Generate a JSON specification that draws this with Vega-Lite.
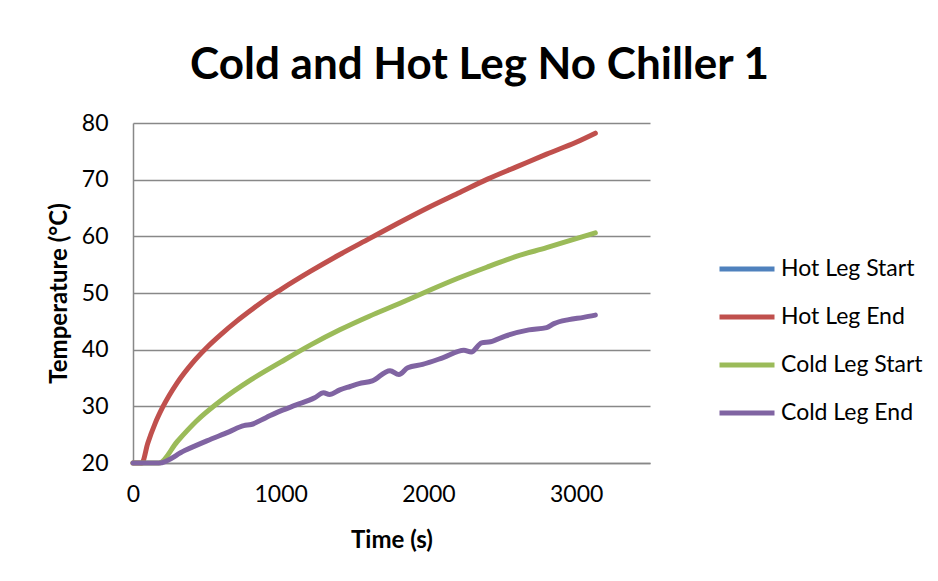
{
  "$schema": "https://vega.github.io/schema/vega-lite/v6.json",
  "autosize": "none",
  "width": 517,
  "height": 340,
  "padding": {"left": 133, "top": 123, "right": 288, "bottom": 118},
  "background": "white",
  "title": {
    "text": "Cold and Hot Leg No Chiller 1",
    "anchor": "middle",
    "frame": "group",
    "dx": 88,
    "offset": 24,
    "font": "Lato",
    "fontSize": 44,
    "fontWeight": "bold",
    "color": "#000000"
  },
  "config": {
    "view": {"stroke": null},
    "font": "Lato",
    "axis": {
      "gridColor": "#888888",
      "gridWidth": 1.5,
      "domainColor": "#888888",
      "domainWidth": 1.5,
      "ticks": false,
      "labelFont": "Lato",
      "labelFontSize": 23,
      "labelColor": "#000000",
      "titleFont": "Lato",
      "titleFontSize": 24,
      "titleFontWeight": "bold",
      "titleColor": "#000000"
    }
  },
  "data": {
    "values": [
      {"series": "Hot Leg End", "t": 0, "v": 20},
      {"series": "Hot Leg End", "t": 60, "v": 20},
      {"series": "Hot Leg End", "t": 100, "v": 23.5},
      {"series": "Hot Leg End", "t": 150, "v": 27},
      {"series": "Hot Leg End", "t": 200, "v": 29.8},
      {"series": "Hot Leg End", "t": 300, "v": 34.2},
      {"series": "Hot Leg End", "t": 400, "v": 37.6},
      {"series": "Hot Leg End", "t": 500, "v": 40.4},
      {"series": "Hot Leg End", "t": 600, "v": 42.8},
      {"series": "Hot Leg End", "t": 700, "v": 45},
      {"series": "Hot Leg End", "t": 800, "v": 47},
      {"series": "Hot Leg End", "t": 900, "v": 48.9},
      {"series": "Hot Leg End", "t": 1000, "v": 50.6},
      {"series": "Hot Leg End", "t": 1200, "v": 53.8},
      {"series": "Hot Leg End", "t": 1400, "v": 56.8},
      {"series": "Hot Leg End", "t": 1600, "v": 59.6},
      {"series": "Hot Leg End", "t": 1800, "v": 62.4},
      {"series": "Hot Leg End", "t": 2000, "v": 65.1},
      {"series": "Hot Leg End", "t": 2200, "v": 67.6},
      {"series": "Hot Leg End", "t": 2400, "v": 70.1},
      {"series": "Hot Leg End", "t": 2600, "v": 72.3},
      {"series": "Hot Leg End", "t": 2800, "v": 74.5},
      {"series": "Hot Leg End", "t": 3000, "v": 76.6},
      {"series": "Hot Leg End", "t": 3130, "v": 78.2},
      {"series": "Cold Leg Start", "t": 0, "v": 20},
      {"series": "Cold Leg Start", "t": 175, "v": 20},
      {"series": "Cold Leg Start", "t": 300, "v": 23.8},
      {"series": "Cold Leg Start", "t": 430, "v": 27.4},
      {"series": "Cold Leg Start", "t": 600, "v": 31.1},
      {"series": "Cold Leg Start", "t": 800, "v": 34.7},
      {"series": "Cold Leg Start", "t": 1000, "v": 37.8},
      {"series": "Cold Leg Start", "t": 1200, "v": 40.8},
      {"series": "Cold Leg Start", "t": 1400, "v": 43.5},
      {"series": "Cold Leg Start", "t": 1600, "v": 45.9},
      {"series": "Cold Leg Start", "t": 1800, "v": 48.1},
      {"series": "Cold Leg Start", "t": 2000, "v": 50.4},
      {"series": "Cold Leg Start", "t": 2200, "v": 52.6},
      {"series": "Cold Leg Start", "t": 2400, "v": 54.6},
      {"series": "Cold Leg Start", "t": 2600, "v": 56.5},
      {"series": "Cold Leg Start", "t": 2800, "v": 58},
      {"series": "Cold Leg Start", "t": 3000, "v": 59.6},
      {"series": "Cold Leg Start", "t": 3130, "v": 60.6},
      {"series": "Cold Leg End", "t": 0, "v": 20},
      {"series": "Cold Leg End", "t": 175, "v": 20},
      {"series": "Cold Leg End", "t": 350, "v": 22.2},
      {"series": "Cold Leg End", "t": 500, "v": 23.9},
      {"series": "Cold Leg End", "t": 650, "v": 25.5},
      {"series": "Cold Leg End", "t": 750, "v": 26.6},
      {"series": "Cold Leg End", "t": 800, "v": 26.8},
      {"series": "Cold Leg End", "t": 900, "v": 28},
      {"series": "Cold Leg End", "t": 1000, "v": 29.2},
      {"series": "Cold Leg End", "t": 1100, "v": 30.2},
      {"series": "Cold Leg End", "t": 1230, "v": 31.5},
      {"series": "Cold Leg End", "t": 1290, "v": 32.4},
      {"series": "Cold Leg End", "t": 1330, "v": 32.1},
      {"series": "Cold Leg End", "t": 1400, "v": 32.9},
      {"series": "Cold Leg End", "t": 1470, "v": 33.5},
      {"series": "Cold Leg End", "t": 1530, "v": 34},
      {"series": "Cold Leg End", "t": 1620, "v": 34.5},
      {"series": "Cold Leg End", "t": 1740, "v": 36.3},
      {"series": "Cold Leg End", "t": 1800, "v": 35.6},
      {"series": "Cold Leg End", "t": 1860, "v": 36.8},
      {"series": "Cold Leg End", "t": 1960, "v": 37.4},
      {"series": "Cold Leg End", "t": 2100, "v": 38.6},
      {"series": "Cold Leg End", "t": 2240, "v": 39.9},
      {"series": "Cold Leg End", "t": 2290, "v": 39.6},
      {"series": "Cold Leg End", "t": 2360, "v": 41.2},
      {"series": "Cold Leg End", "t": 2420, "v": 41.4},
      {"series": "Cold Leg End", "t": 2520, "v": 42.4},
      {"series": "Cold Leg End", "t": 2680, "v": 43.5},
      {"series": "Cold Leg End", "t": 2800, "v": 43.9},
      {"series": "Cold Leg End", "t": 2850, "v": 44.6},
      {"series": "Cold Leg End", "t": 2950, "v": 45.3},
      {"series": "Cold Leg End", "t": 3050, "v": 45.7},
      {"series": "Cold Leg End", "t": 3130, "v": 46.1}
    ]
  },
  "mark": {"type": "line", "strokeWidth": 5, "strokeCap": "round", "strokeJoin": "round", "interpolate": "monotone"},
  "encoding": {
    "x": {
      "field": "t", "type": "quantitative",
      "scale": {"domain": [0, 3500], "nice": false},
      "axis": {"values": [0, 1000, 2000, 3000], "format": "d", "grid": false, "title": "Time (s)", "labelPadding": 20, "titlePadding": 22, "labelOverlap": false, "labelFlush": false}
    },
    "y": {
      "field": "v", "type": "quantitative",
      "scale": {"domain": [20, 80], "nice": false, "zero": false},
      "axis": {"values": [20, 30, 40, 50, 60, 70, 80], "title": "Temperature (°C)", "labelPadding": 25, "titlePadding": 10}
    },
    "color": {
      "field": "series", "type": "nominal",
      "scale": {
        "domain": ["Hot Leg Start", "Hot Leg End", "Cold Leg Start", "Cold Leg End"],
        "range": ["#4F81BD", "#C0504D", "#9BBB59", "#8064A2"]
      },
      "legend": {
        "title": null,
        "orient": "none",
        "legendX": 584,
        "legendY": 116,
        "symbolType": "stroke",
        "symbolSize": 3025,
        "symbolStrokeWidth": 5,
        "labelFontSize": 23,
        "labelFont": "Lato",
        "labelColor": "#000000",
        "labelOffset": 4,
        "rowPadding": 6
      }
    }
  }
}
